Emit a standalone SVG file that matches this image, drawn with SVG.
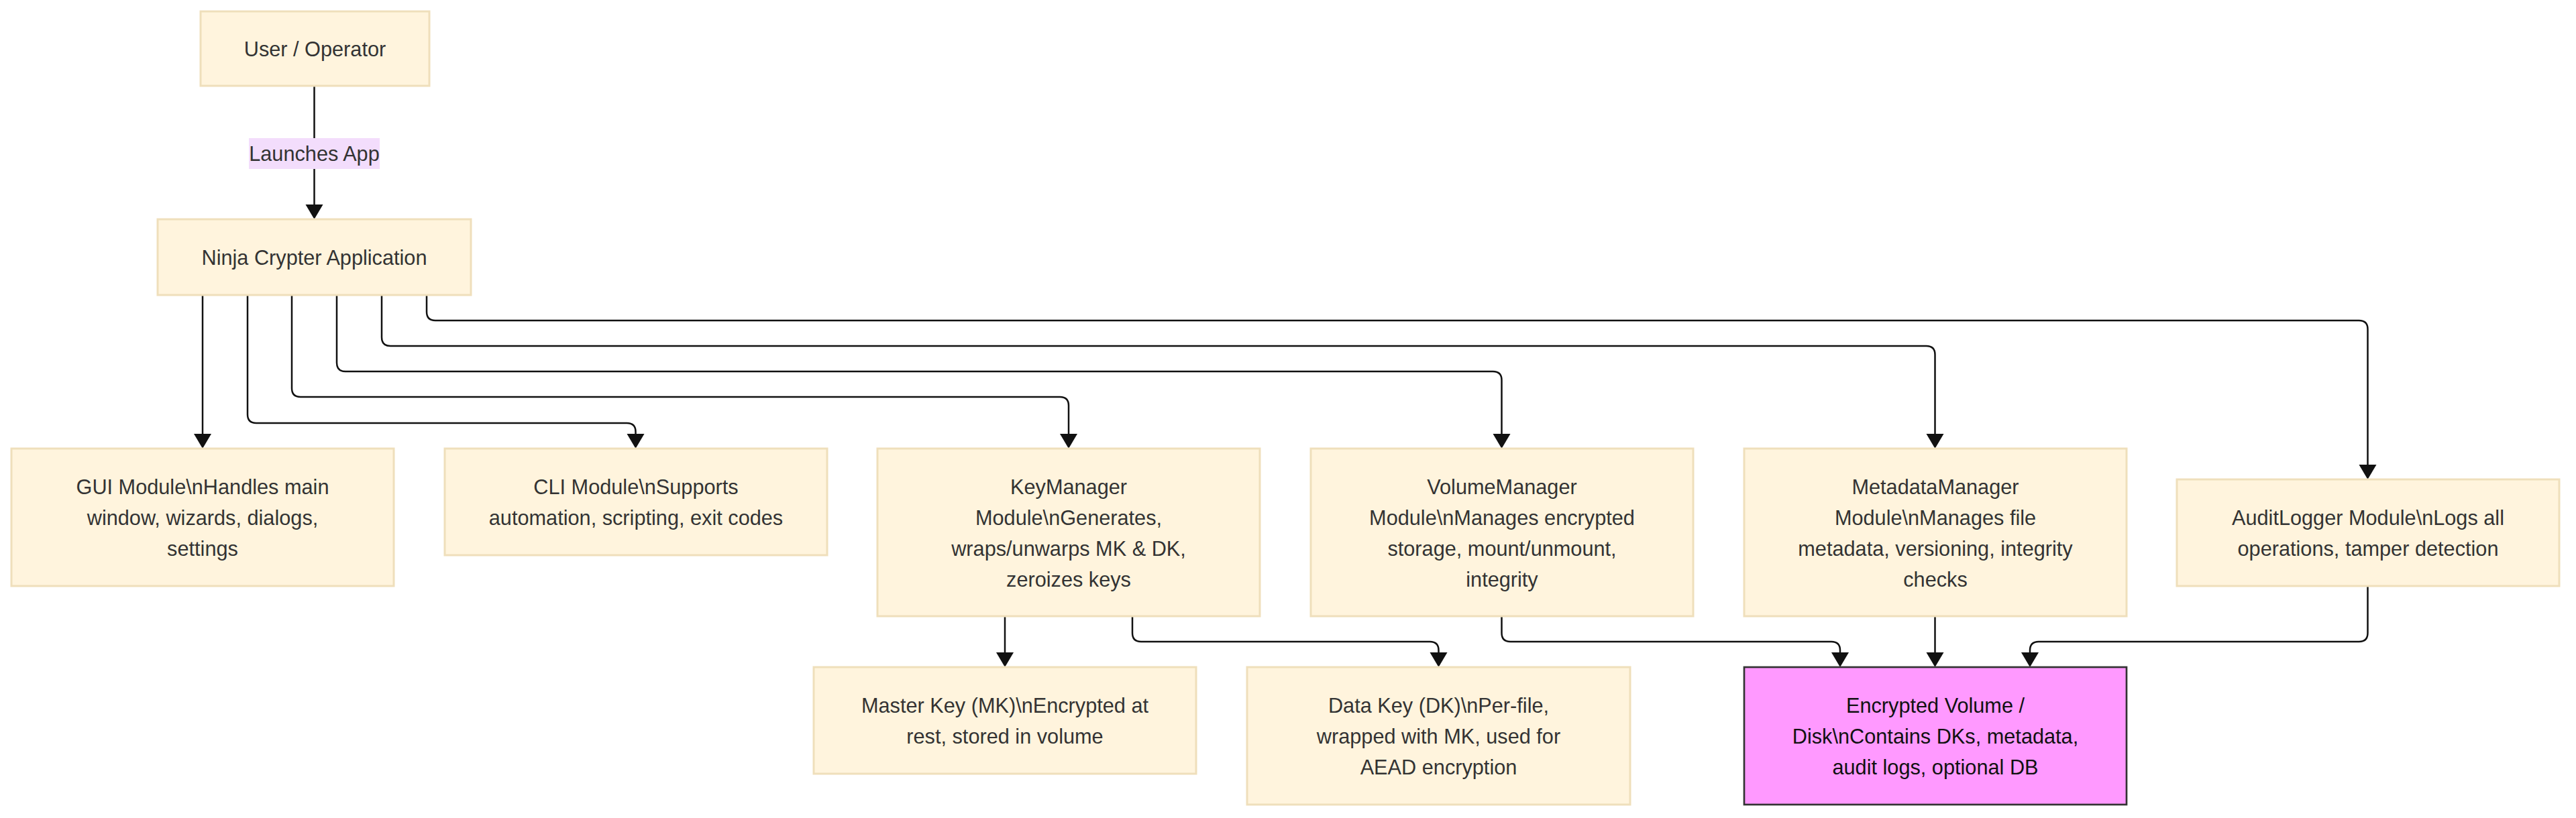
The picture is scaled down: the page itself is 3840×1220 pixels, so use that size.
<svg xmlns="http://www.w3.org/2000/svg" width="3840" height="1220" viewBox="0 0 3840 1220">
<style>
.n rect{fill:#fff4dd;stroke:#efdfbb;stroke-width:3}
.n text, .lbl text{font-family:"Liberation Sans",Arial,Helvetica,sans-serif;font-size:30.7px;fill:#333;text-anchor:middle}
#encVol rect{fill:#ff99ff;stroke:#333;stroke-width:2.7}
#encVol text{fill:#111}
.e path{fill:none;stroke:#111;stroke-width:2.5;marker-end:url(#arr)}
.lbl rect{fill:#f3ddfc}
</style>
<defs>
<marker id="arr" markerUnits="userSpaceOnUse" markerWidth="23" markerHeight="27" refX="0" refY="13" orient="auto" viewBox="0 0 23 27">
<path d="M0,0 L22,13 L0,26 z" fill="#111"/>
</marker>
</defs>
<rect width="3840" height="1220" fill="#fff"/>
<g id="connectors" class="e">
<path d="M468.5,128 V305"/>
<path d="M302,440 V647"/>
<path d="M369,440 V618 Q369,631 382,631 H934.5 Q947.5,631 947.5,644 V647"/>
<path d="M435,440 V579 Q435,592 448,592 H1580 Q1593,592 1593,605 V647"/>
<path d="M502,440 V541 Q502,554 515,554 H2225.5 Q2238.5,554 2238.5,567 V647"/>
<path d="M569,440 V503 Q569,516 582,516 H2871.5 Q2884.5,516 2884.5,529 V647"/>
<path d="M636,440 V465 Q636,478 649,478 H3516.5 Q3529.5,478 3529.5,491 V693"/>
<path d="M1498,919 V973"/>
<path d="M1688,919 V944 Q1688,957 1701,957 H2131.5 Q2144.5,957 2144.5,970 V973"/>
<path d="M2238.5,919 V944 Q2238.5,957 2251.5,957 H2730 Q2743,957 2743,970 V973"/>
<path d="M2884.5,919 V973"/>
<path d="M3529.5,874 V944 Q3529.5,957 3516.5,957 H3039 Q3026,957 3026,970 V973"/>
</g>
<g id="edgeLabel" class="lbl">
<rect x="371" y="206" width="195" height="46"/>
<text x="468.5" y="240">Launches App</text>
</g>
<g id="user" class="n">
<rect x="299" y="17" width="341" height="111"/>
<text x="469.5" y="83.5">User / Operator</text>
</g>
<g id="ninja" class="n">
<rect x="235" y="327" width="467" height="113"/>
<text x="468.5" y="394.5">Ninja Crypter Application</text>
</g>
<g id="gui" class="n">
<rect x="17" y="669" width="570" height="205"/>
<text x="302" y="736.5">GUI Module\nHandles main</text>
<text x="302" y="782.5">window, wizards, dialogs,</text>
<text x="302" y="828.5">settings</text>
</g>
<g id="cli" class="n">
<rect x="663" y="669" width="570" height="159"/>
<text x="948" y="736.5">CLI Module\nSupports</text>
<text x="948" y="782.5">automation, scripting, exit codes</text>
</g>
<g id="keyManager" class="n">
<rect x="1308" y="669" width="570" height="250"/>
<text x="1593" y="736.5">KeyManager</text>
<text x="1593" y="782.5">Module\nGenerates,</text>
<text x="1593" y="828.5">wraps/unwarps MK &amp; DK,</text>
<text x="1593" y="874.5">zeroizes keys</text>
</g>
<g id="volumeManager" class="n">
<rect x="1954" y="669" width="570" height="250"/>
<text x="2239" y="736.5">VolumeManager</text>
<text x="2239" y="782.5">Module\nManages encrypted</text>
<text x="2239" y="828.5">storage, mount/unmount,</text>
<text x="2239" y="874.5">integrity</text>
</g>
<g id="metadataManager" class="n">
<rect x="2600" y="669" width="570" height="250"/>
<text x="2885" y="736.5">MetadataManager</text>
<text x="2885" y="782.5">Module\nManages file</text>
<text x="2885" y="828.5">metadata, versioning, integrity</text>
<text x="2885" y="874.5">checks</text>
</g>
<g id="auditLogger" class="n">
<rect x="3245" y="715" width="570" height="159"/>
<text x="3530" y="782.5">AuditLogger Module\nLogs all</text>
<text x="3530" y="828.5">operations, tamper detection</text>
</g>
<g id="masterKey" class="n">
<rect x="1213" y="995" width="570" height="159"/>
<text x="1498" y="1062.5">Master Key (MK)\nEncrypted at</text>
<text x="1498" y="1108.5">rest, stored in volume</text>
</g>
<g id="dataKey" class="n">
<rect x="1859" y="995" width="571" height="205"/>
<text x="2144.5" y="1062.5">Data Key (DK)\nPer-file,</text>
<text x="2144.5" y="1108.5">wrapped with MK, used for</text>
<text x="2144.5" y="1154.5">AEAD encryption</text>
</g>
<g id="encVol" class="n">
<rect x="2600" y="995" width="570" height="205"/>
<text x="2885" y="1062.5">Encrypted Volume /</text>
<text x="2885" y="1108.5">Disk\nContains DKs, metadata,</text>
<text x="2885" y="1154.5">audit logs, optional DB</text>
</g>
</svg>
